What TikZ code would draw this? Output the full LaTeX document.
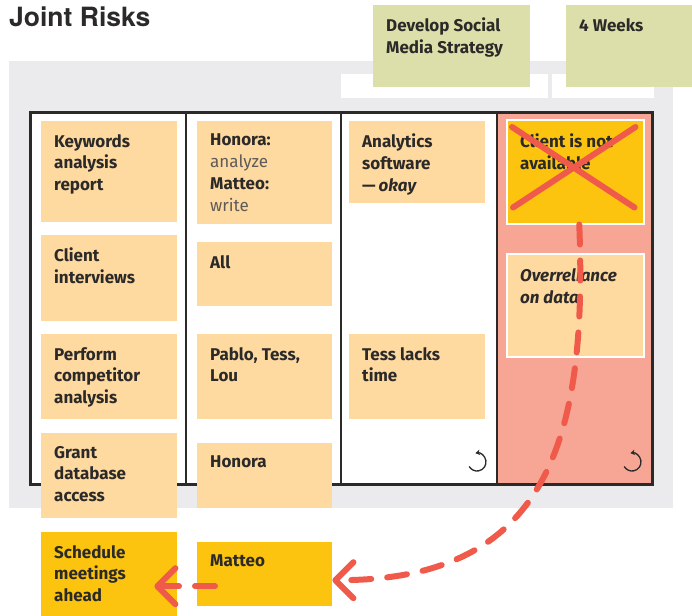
\documentclass[tikz,border=0pt]{standalone}
\usepackage{fontspec}
\setmainfont{TeX Gyre Heros}
\newfontfamily\notefont{Fira Sans}
\usetikzlibrary{positioning}
\usetikzlibrary{arrows.meta}

\definecolor{boardgray}{HTML}{EBEBED}
\definecolor{peach}{HTML}{FED9A0}
\definecolor{sunny}{HTML}{FCC40F}
\definecolor{sage}{HTML}{DCDFA9}
\definecolor{riskred}{HTML}{F7A696}
\definecolor{coral}{HTML}{F05A4B}
\definecolor{ink}{HTML}{2B2A29}
\definecolor{softink}{HTML}{5E5B58}

\tikzset{
  note/.style={anchor=north west,inner sep=0pt,draw=none},
  notetext/.style={inner sep=0pt,align=left,text=ink,font=\notefont\bfseries\fontsize{17}{21.7}\selectfont},
  riskarrow/.style={coral,line width=6pt,line cap=round,dash pattern=on 20pt off 16pt,-{Straight Barb[length=18pt,width=36pt,round]}},
  crossout/.style={coral,line width=6pt,line cap=round},
  refresh/.style={ink,line width=1.3pt,{Stealth[length=4.5pt,width=5.5pt]}-},
}

\begin{document}
\begin{tikzpicture}[x=1pt,y=-1pt]
\useasboundingbox (0,0) rectangle (692,615);

% board
\fill[boardgray] (9,61) rectangle (673,508);
\fill[white] (341,74) rectangle (548,98);
\fill[white] (552,74) rectangle (654,98);
\node[anchor=north west,inner sep=0pt,text=ink,font=\bfseries\fontsize{26.5}{30}\selectfont] (title) at (9,7) {Joint Risks};

% header notes
\node[note,fill=sage,minimum width=157pt,minimum height=82pt] (goal) at (373,5) {};
\node[notetext,below right=13pt and 13pt of goal.north west] (goal-t) {Develop Social\\Media Strategy};
\node[note,fill=sage,minimum width=126pt,minimum height=82pt] (time) at (566,5) {};
\node[notetext,below right=13pt and 13pt of time.north west] (time-t) {4 Weeks};

% frame and columns
\fill[white] (30,112) rectangle (497,484);
\fill[riskred] (497,112) rectangle (652,484);
\draw[ink,line width=2pt] (186,112) -- (186,484);
\draw[ink,line width=2pt] (341,112) -- (341,484);
\draw[ink,line width=2pt] (497,112) -- (497,484);
\draw[ink,line width=3pt] (30.5,112) rectangle (652,484);

\draw[refresh] (477,462) ++(100:9pt) arc[start angle=100,end angle=-150,radius=9pt];
\draw[refresh] (632,462) ++(100:9pt) arc[start angle=100,end angle=-150,radius=9pt];

% column 1
\node[note,fill=peach,minimum width=136pt,minimum height=101pt] (kw) at (41,121) {};
\node[notetext,below right=13pt and 13pt of kw.north west] (kw-t) {Keywords\\analysis\\report};
\node[note,fill=peach,minimum width=136pt,minimum height=86pt] (ci) at (41,235) {};
\node[notetext,below right=13pt and 13pt of ci.north west] (ci-t) {Client\\interviews};
\node[note,fill=peach,minimum width=136pt,minimum height=85pt] (pc) at (41,334) {};
\node[notetext,below right=13pt and 13pt of pc.north west] (pc-t) {Perform\\competitor\\analysis};
\node[note,fill=peach,minimum width=136pt,minimum height=85pt] (gd) at (41,433) {};
\node[notetext,below right=13pt and 13pt of gd.north west] (gd-t) {Grant\\database\\access};
\node[note,fill=sunny,minimum width=136pt,minimum height=84pt] (sm) at (41,532) {};
\node[notetext,below right=13pt and 13pt of sm.north west] (sm-t) {Schedule\\meetings\\ahead};

% column 2
\node[note,fill=peach,minimum width=135pt,minimum height=103pt] (hm) at (197,121) {};
\node[notetext,below right=13pt and 13pt of hm.north west] (hm-t) {Honora:\\{\mdseries\color{softink}analyze}\\Matteo:\\{\mdseries\color{softink}write}};
\node[note,fill=peach,minimum width=135pt,minimum height=64pt] (al) at (197,242) {};
\node[notetext,below right=13pt and 13pt of al.north west] (al-t) {All};
\node[note,fill=peach,minimum width=135pt,minimum height=85pt] (pt) at (197,334) {};
\node[notetext,below right=13pt and 13pt of pt.north west] (pt-t) {Pablo, Tess,\\Lou};
\node[note,fill=peach,minimum width=135pt,minimum height=65pt] (ho) at (197,443) {};
\node[notetext,below right=13pt and 13pt of ho.north west] (ho-t) {Honora};
\node[note,fill=sunny,minimum width=135pt,minimum height=64pt] (mt) at (197,542) {};
\node[notetext,below right=13pt and 13pt of mt.north west] (mt-t) {Matteo};

% column 3
\node[note,fill=peach,minimum width=136pt,minimum height=82pt] (as) at (349,121) {};
\node[notetext,below right=13pt and 13pt of as.north west] (as-t) {Analytics\\software\\—\,\textit{okay}};
\node[note,fill=peach,minimum width=136pt,minimum height=85pt] (tl) at (349,334) {};
\node[notetext,below right=13pt and 13pt of tl.north west] (tl-t) {Tess lacks\\time};

% column 4
\node[note,fill=sunny,draw=white,line width=1.5pt,minimum width=137pt,minimum height=104pt] (cn) at (506,119) {};
\node[notetext,below right=15pt and 14pt of cn.north west] (cn-t) {Client is not\\available};
\node[note,fill=peach,draw=white,line width=1.5pt,minimum width=137pt,minimum height=103pt] (od) at (506,253) {};
\node[notetext,below right=15pt and 14pt of od.north west] (od-t) {\itshape Overreliance\\\itshape on data};

\draw[crossout] ([shift={(6pt,-8pt)}]cn.north west) -- ([shift={(-10pt,17pt)}]cn.south east);
\draw[crossout] ([shift={(-9pt,-8pt)}]cn.north east) -- ([shift={(7pt,17pt)}]cn.south west);

% risk moves
\draw[riskarrow] ([xshift=4pt]cn.south) .. controls +(9,227) and +(208,0) .. ([yshift=-6pt]mt.east);
\draw[riskarrow] ([xshift=18pt,yshift=-12pt]mt.west) -- ([xshift=-23pt,yshift=-12pt]sm.east);

\end{tikzpicture}
\end{document}
